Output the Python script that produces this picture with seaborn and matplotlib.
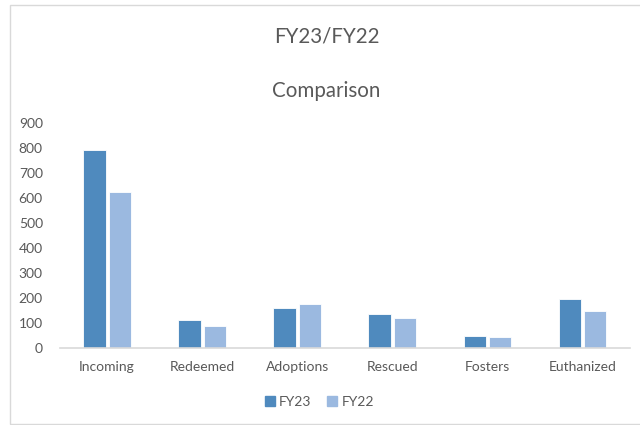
import pandas as pd
import seaborn as sns
import matplotlib.pyplot as plt
from matplotlib.patches import Rectangle
from matplotlib.lines import Line2D

categories = ['Incoming', 'Redeemed', 'Adoptions', 'Rescued', 'Fosters', 'Euthanized']
fy23 = [790, 113, 160, 135, 47, 197]
fy22 = [625, 87, 177, 119, 43, 149]
yticks = [0, 100, 200, 300, 400, 500, 600, 700, 800, 900]
colors = ['#4F8ABE', '#9BB9E0']

df = pd.DataFrame({
    'category': categories * 2,
    'value': fy23 + fy22,
    'year': ['FY23'] * len(categories) + ['FY22'] * len(categories),
})

sns.set_style('white')
plt.rcParams['font.family'] = ['Lato', 'DejaVu Sans']

fig = plt.figure(figsize=(6.4, 4.25), dpi=100)
ax = fig.add_axes([0.093, 0.181, 0.891, 0.53])

sns.barplot(data=df, x='category', y='value', hue='year',
            palette=colors, saturation=1, width=0.53, gap=0.12,
            edgecolor='white', linewidth=0.6, legend=False, ax=ax)

ax.set_ylim(0, 900)
ax.set_xlim(-0.5, len(categories) - 0.5)
ax.set_yticks(yticks)
ax.set_xlabel('')
ax.set_ylabel('')
ax.tick_params(axis='both', length=0, labelsize=10, colors='#595959')
ax.tick_params(axis='x', pad=9)
ax.tick_params(axis='y', pad=12)
for s in ['top', 'right', 'left']:
    ax.spines[s].set_visible(False)
ax.spines['bottom'].set_color('#D9D9D9')
ax.spines['bottom'].set_linewidth(1.2)

fig.text(0.51, 0.915, 'FY23/FY22', ha='center', va='center', fontsize=14.8, color='#595959')
fig.text(0.51, 0.787, 'Comparison', ha='center', va='center', fontsize=14.8, color='#595959')

handles = [Line2D([], [], marker='s', linestyle='', color=c, markersize=6.5) for c in colors]
ax.legend(handles, ['FY23', 'FY22'], loc='center', bbox_to_anchor=(0.5, 0.055),
          bbox_transform=fig.transFigure, ncol=2, frameon=False, fontsize=10,
          handlelength=0.6, handletextpad=0.4, columnspacing=1.2, labelcolor='#595959')

fig.patches.append(Rectangle((9.5 / 640, 1 / 425), 1.2, 419.5 / 425, transform=fig.transFigure,
                             fill=False, edgecolor='#D9D9D9', linewidth=1))

fig.savefig('out.png', dpi=100)
